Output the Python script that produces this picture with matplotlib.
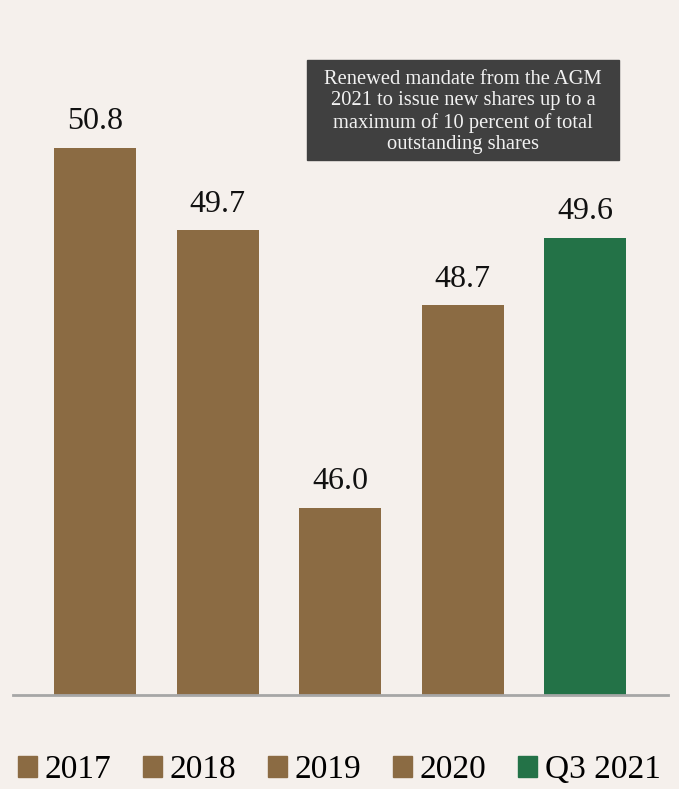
import matplotlib.pyplot as plt
from matplotlib.patches import Patch, Rectangle

categories = ['2017', '2018', '2019', '2020', 'Q3 2021']
values = [50.8, 49.7, 46.0, 48.7, 49.6]
labels = ['50.8', '49.7', '46.0', '48.7', '49.6']
note = ('Renewed mandate from the AGM\n2021 to issue new shares up to a\n'
        'maximum of 10 percent of total\noutstanding shares')

brown = '#8B6B43'
green = '#237247'
bg = '#F5F0EC'
colors = [brown, brown, brown, brown, green]

plt.rcParams['font.family'] = ['Liberation Serif', 'DejaVu Serif']

fig = plt.figure(figsize=(6.79, 7.89), dpi=100)
fig.patch.set_facecolor(bg)
W, H = 679, 789

ax = fig.add_axes([13 / W, 94 / H, 655 / W, 695 / H])
ax.set_facecolor(bg)
x = range(len(values))
ax.bar(x, values, width=0.67, color=colors, zorder=2)
ax.set_xlim(-0.67, 4.677)
ax.set_ylim(43.5, 43.5 + 695 / 75)

for i, v in enumerate(values):
    ax.annotate(labels[i], (i, v), xytext=(0, 8), textcoords='offset points',
                ha='center', va='bottom', fontsize=23, color='#111111')

for s in ['top', 'right', 'left']:
    ax.spines[s].set_visible(False)
ax.spines['bottom'].set_color('#A6A6A6')
ax.spines['bottom'].set_linewidth(2)
ax.set_xticks([])
ax.set_yticks([])

# note box
fig.patches.append(Rectangle((307 / W, 1 - 160 / H), 312 / W, 100 / H,
                             transform=fig.transFigure, color='#404040', zorder=3))
fig.text(463 / W, 1 - 112 / H, note, ha='center', va='center', color='#F2F2F2',
         fontsize=14.8, linespacing=1.15, zorder=4)

handles = [Patch(color=c) for c in colors]
fig.legend(handles, categories, loc='center', bbox_to_anchor=(0.5, 19 / H), ncol=5,
           frameon=False, fontsize=24, handlelength=0.55, handleheight=0.55,
           handletextpad=0.25, columnspacing=0.95, borderaxespad=0)

fig.savefig('out.png', dpi=100, facecolor=bg)
